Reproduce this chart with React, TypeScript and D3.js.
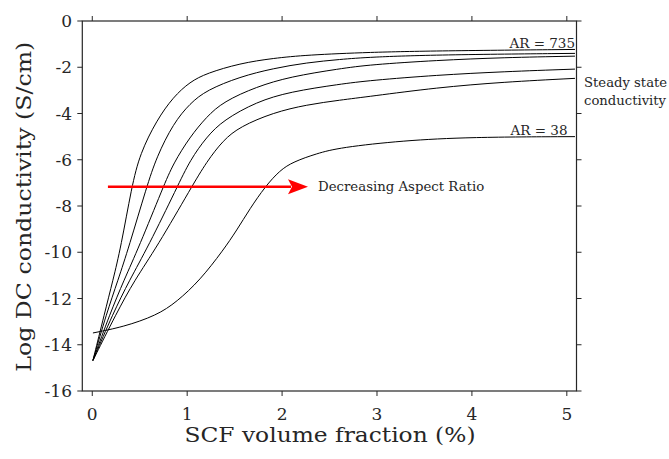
import React from "react";
import * as d3 from "d3";

type Pt = [number, number];

const xTicks = [0, 1, 2, 3, 4, 5];
const yTicks = [0, -2, -4, -6, -8, -10, -12, -14, -16];

const curveAR735: Pt[] = [
  [0.007, -14.68], [0.129, -12.65], [0.218, -11.21], [0.302, -9.77], [0.415, -7.17],
  [0.503, -5.73], [0.679, -4.29], [0.854, -3.28], [1.03, -2.63], [1.205, -2.26],
  [1.556, -1.83], [1.907, -1.61], [2.26, -1.47], [2.926, -1.35], [3.629, -1.29], [5.086, -1.23],
];
const curveB: Pt[] = [
  [0.007, -14.68], [0.15, -12.65], [0.271, -11.21], [0.386, -9.77], [0.573, -7.17],
  [0.679, -5.87], [0.854, -4.43], [1.03, -3.56], [1.205, -2.99], [1.556, -2.41],
  [1.907, -2.05], [2.26, -1.8], [2.61, -1.66], [2.926, -1.56], [3.629, -1.46], [5.086, -1.4],
];
const curveC: Pt[] = [
  [0.007, -14.68], [0.187, -12.65], [0.334, -11.21], [0.492, -9.77], [0.748, -7.17],
  [0.854, -6.16], [1.03, -5.01], [1.205, -4.14], [1.38, -3.49], [1.732, -2.84],
  [2.083, -2.41], [2.61, -2.06], [2.926, -1.89], [3.629, -1.7], [4.331, -1.58], [5.086, -1.52],
];
const curveD: Pt[] = [
  [0.007, -14.68], [0.218, -12.65], [0.392, -11.21], [0.587, -9.77], [0.896, -7.17],
  [1.03, -6.02], [1.205, -5.01], [1.38, -4.29], [1.732, -3.49], [2.083, -3.06],
  [2.61, -2.73], [2.926, -2.57], [3.629, -2.34], [4.331, -2.19], [5.086, -2.08],
];
const curveE: Pt[] = [
  [0.007, -14.68], [0.253, -12.65], [0.445, -11.21], [0.682, -9.77], [1.047, -7.17],
  [1.205, -6.09], [1.38, -5.15], [1.556, -4.57], [1.907, -3.96], [2.26, -3.62],
  [2.61, -3.42], [2.926, -3.26], [3.629, -2.88], [4.331, -2.64], [5.086, -2.48],
];
const curveAR38: Pt[] = [
  [0.007, -13.49], [0.327, -13.23], [0.679, -12.73], [0.889, -12.15], [1.135, -11.21],
  [1.38, -9.91], [1.522, -9.05], [1.662, -8.11], [1.82, -7.17], [1.978, -6.45],
  [2.118, -6.09], [2.365, -5.73], [2.61, -5.47], [3.277, -5.17], [3.98, -5.02], [5.086, -5.0],
];
const series: Pt[][] = [curveAR735, curveB, curveC, curveD, curveE, curveAR38];

const arrowFrom: Pt = [0.165, -7.17];
const arrowTo: Pt = [2.273, -7.17];

const FONT = "'DejaVu Serif', 'Liberation Serif', serif";
const INK = "#262626";

export default function App() {
  const W = 669, H = 459;
  const left = 82.3, right = 576.5, top = 21, bottom = 391;
  const x = d3.scaleLinear().domain([-0.105, 5.102]).range([left, right]);
  const y = d3.scaleLinear().domain([0, -16]).range([top, bottom]);
  const line = d3
    .line<Pt>()
    .x((d) => x(d[0]))
    .y((d) => y(d[1]))
    .curve(d3.curveBasis);

  const ax0 = x(arrowFrom[0]), ax1 = x(arrowTo[0]), ay = y(arrowTo[1]);
  const headLen = 20, headHalf = 7.5;

  return (
    <svg
      width={W}
      height={H}
      style={{ position: "absolute", left: 0, top: 0, background: "#fff" }}
      fontFamily={FONT}
    >
      {series.map((s, i) => (
        <path key={i} d={line(s) || ""} fill="none" stroke="#000" strokeWidth={1} />
      ))}

      <rect x={left} y={top} width={right - left} height={bottom - top} fill="none" stroke={INK} strokeWidth={1.2} />
      {xTicks.map((t) => (
        <g key={"x" + t}>
          <line x1={x(t)} x2={x(t)} y1={bottom} y2={bottom + 5} stroke={INK} strokeWidth={1} />
          <line x1={x(t)} x2={x(t)} y1={top} y2={top - 5} stroke={INK} strokeWidth={1} />
          <text x={x(t)} y={420} textAnchor="middle" fontSize={17} fill={INK}>
            {t}
          </text>
        </g>
      ))}
      {yTicks.map((t) => (
        <g key={"y" + t}>
          <line x1={left} x2={left - 5} y1={y(t)} y2={y(t)} stroke={INK} strokeWidth={1} />
          <line x1={right} x2={right + 5} y1={y(t)} y2={y(t)} stroke={INK} strokeWidth={1} />
          <text x={72} y={y(t)} dy="0.36em" textAnchor="end" fontSize={17} fill={INK}>
            {t}
          </text>
        </g>
      ))}

      <text x={330} y={442} textAnchor="middle" fontSize={21} fill={INK} textLength={291} lengthAdjust="spacingAndGlyphs">
        SCF volume fraction (%)
      </text>
      <text
        transform={`translate(31,206.7) rotate(-90)`}
        textAnchor="middle"
        fontSize={21}
        fill={INK}
        textLength={330}
        lengthAdjust="spacingAndGlyphs"
      >
        Log DC conductivity (S/cm)
      </text>

      <text x={575} y={48} textAnchor="end" fontSize={13.5} fill={INK}>
        AR = 735
      </text>
      <text x={567.5} y={135} textAnchor="end" fontSize={13.5} fill={INK}>
        AR = 38
      </text>
      <text x={584} y={87} fontSize={13.2} fill={INK}>
        Steady state
      </text>
      <text x={584} y={105} fontSize={13.2} fill={INK}>
        conductivity
      </text>

      <line x1={ax0} x2={ax1 - headLen + 3} y1={ay} y2={ay} stroke="#ff0000" strokeWidth={2.6} />
      <path
        d={`M${ax1},${ay} L${ax1 - headLen},${ay - headHalf} L${ax1 - headLen + 4},${ay} L${ax1 - headLen},${ay + headHalf} Z`}
        fill="#ff0000"
      />
      <text x={318} y={190.5} fontSize={13.3} fill={INK}>
        Decreasing Aspect Ratio
      </text>
    </svg>
  );
}
